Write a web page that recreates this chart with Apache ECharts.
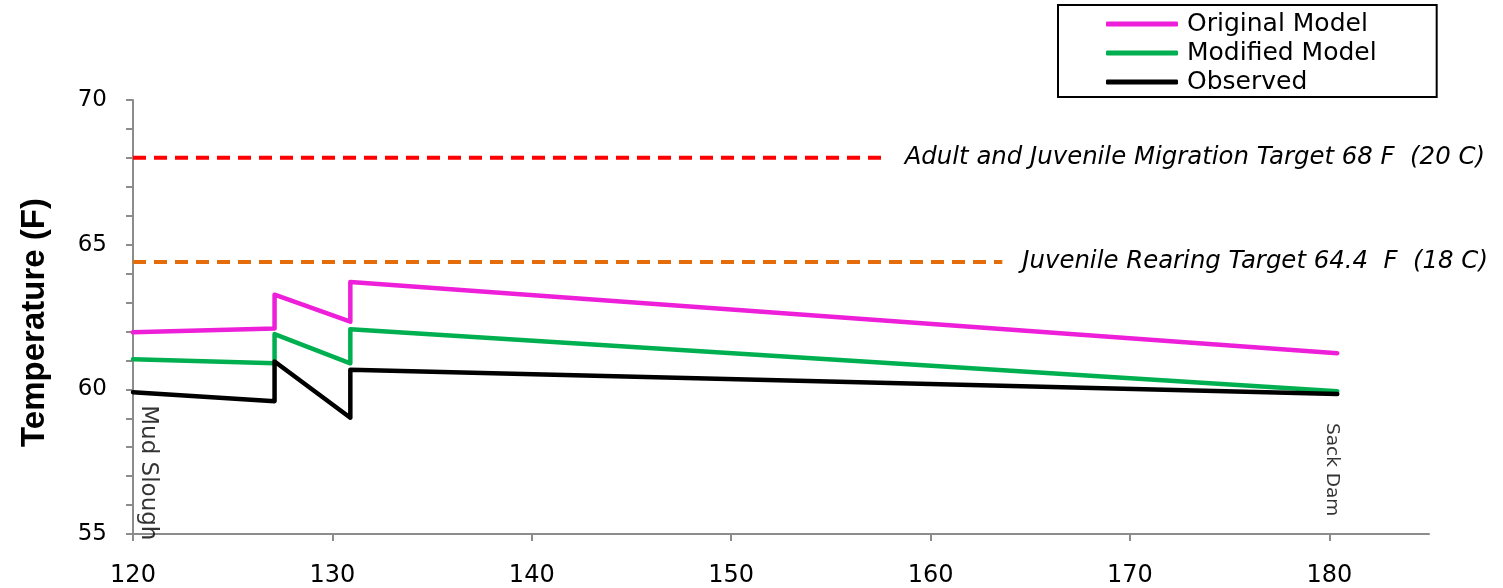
<!DOCTYPE html>
<html><head><meta charset="utf-8">
<script src="https://cdn.jsdelivr.net/npm/echarts@6/dist/echarts.min.js"></script>
<style>html,body{margin:0;padding:0;background:#fff}#c{width:1503px;height:588px}</style>
</head><body><div id="c"></div>
<script>
// River mile positions (x) and temperatures (F)
const riverMiles = [120, 127.1, 127.1, 130.9, 130.9, 180.4];
const originalModel = [61.97, 62.10, 63.27, 62.34, 63.71, 61.25];
const modifiedModel = [61.04, 60.90, 61.91, 60.90, 62.08, 59.93];
const observed      = [59.90, 59.59, 60.96, 59.02, 60.68, 59.84];

const migrationTarget = 68;   const migrationRange = [120, 157.7];
const rearingTarget = 64.4;   const rearingRange = [120, 163.6];
const migrationLabel = 'Adult and Juvenile Migration Target 68 F  (20 C)';
const rearingLabel = 'Juvenile Rearing Target 64.4  F  (18 C)';

const xTicks = [120, 130, 140, 150, 160, 170, 180];
const yLabels = [55, 60, 65, 70];
const places = [{name: 'Mud Slough', x: 120.75, y: 59.45, size: 23}, {name: 'Sack Dam', x: 180.15, y: 58.84, size: 18.5}];

const FONT = 'DejaVu Sans';
const pairs = vals => riverMiles.map((x, i) => [x, vals[i]]);

const chart = echarts.init(document.getElementById('c'), null, {renderer: 'canvas'});
const mainLine = (name, color, vals, z) => ({
  name, type: 'line', data: pairs(vals), symbol: 'none', z,
  lineStyle: {color, width: 4.5, cap: 'round', join: 'round'}, itemStyle: {color},
  animation: false
});
const targetLine = (color, y, range, label) => ({
  type: 'line', data: range.map(x => [x, y]), symbol: 'none', z: 1,
  lineStyle: {color, width: 4, type: [13, 8]}, itemStyle: {color},
  endLabel: {show: true, formatter: label, distance: 20, fontFamily: FONT, fontStyle: 'italic',
             fontSize: 24.4, color: '#000'},
  animation: false
});
chart.setOption({
  animation: false,
  grid: {left: 133, right: 74, top: 100, bottom: 51, containLabel: false},
  legend: {
    data: ['Original Model', 'Modified Model', 'Observed'],
    orient: 'vertical', left: 1058, top: 5,
    icon: 'roundRect', itemWidth: 72, itemHeight: 5, itemGap: 1,
    padding: [5, 60, 1, 48], borderColor: '#000', borderWidth: 2,
    textStyle: {fontFamily: FONT, fontSize: 25, lineHeight: 28, color: '#000', padding: [0, 0, 0, 4]}
  },
  xAxis: {
    type: 'value', min: 120, max: 185, interval: 10,
    axisLine: {lineStyle: {color: '#8c8c8c', width: 2}},
    axisTick: {show: true, length: 7, lineStyle: {color: '#8c8c8c', width: 2}, customValues: xTicks},
    axisLabel: {customValues: xTicks, margin: 30, fontFamily: FONT, fontSize: 24, color: '#000'},
    splitLine: {show: false}
  },
  yAxis: {
    type: 'value', min: 55, max: 70, interval: 1,
    name: 'Temperature (F)', nameLocation: 'middle', nameGap: 82,
    nameTextStyle: {fontFamily: 'Liberation Sans', fontSize: 33, fontWeight: 'bold', color: '#000',
                    padding: [0, 11, 0, 0]},
    axisLine: {show: true, lineStyle: {color: '#8c8c8c', width: 2}},
    axisTick: {show: true, length: 7, lineStyle: {color: '#8c8c8c', width: 2}},
    axisLabel: {customValues: yLabels, margin: 26, fontFamily: FONT, fontSize: 23, color: '#000'},
    splitLine: {show: false}
  },
  series: [
    targetLine('#ff0000', migrationTarget, migrationRange, migrationLabel),
    targetLine('#e46c0a', rearingTarget, rearingRange, rearingLabel),
    mainLine('Original Model', '#ee1fd9', originalModel, 3),
    mainLine('Modified Model', '#00b050', modifiedModel, 4),
    mainLine('Observed', '#000000', observed, 5),
    {
      type: 'scatter',
      data: places.map(p => ({name: p.name, value: [p.x, p.y],
        label: {fontSize: p.size}})),
      symbolSize: 0, z: 6, silent: true, itemStyle: {color: '#000'},
      label: {show: true, formatter: '{b}', rotate: -90, position: 'inside', align: 'left',
              verticalAlign: 'middle', fontFamily: FONT, color: '#000',
              textBorderWidth: 0, textBorderColor: 'transparent'}
    }
  ]
});
</script></body></html>
